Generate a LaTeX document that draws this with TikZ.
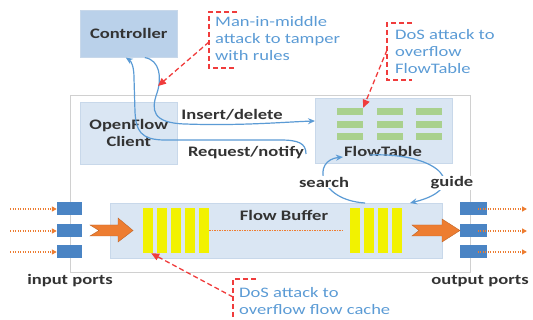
\documentclass[tikz,border=0pt]{standalone}
\usepackage{fontspec}
\setmainfont[FakeStretch=1.28]{Carlito}
\usetikzlibrary{arrows.meta,calc}
\definecolor{ctrlblue}{HTML}{BAD1EA}
\definecolor{lightbox}{HTML}{DAE6F3}
\definecolor{boxedge}{HTML}{C8D8EA}
\definecolor{outeredge}{HTML}{D0D0D0}
\definecolor{curveblue}{HTML}{5B9BD5}
\definecolor{portblue}{HTML}{4A84C4}
\definecolor{orng}{HTML}{ED7D31}
\definecolor{yel}{HTML}{F2F200}
\definecolor{grn}{HTML}{A9D18E}
\definecolor{txt}{HTML}{333333}
\definecolor{atkred}{HTML}{F03C3C}
\definecolor{atkblue}{HTML}{5B9BD5}
\begin{document}
\begin{tikzpicture}[x=1pt,y=-1pt,
  lbl/.style={font=\fontsize{14.5}{17}\selectfont\bfseries, text=txt, inner sep=0pt, align=center},
  atk/.style={font=\fontsize{14.5}{17}\selectfont, text=atkblue, inner sep=0pt, align=left, anchor=west},
  bluebox/.style={fill=#1, draw=boxedge, line width=0.6pt, inner sep=0pt, anchor=north west},
  cell/.style={fill=grn, draw=none, minimum width=26pt, minimum height=7pt, inner sep=0pt},
  bar/.style={fill=yel, draw=none, minimum width=10pt, minimum height=45pt, inner sep=0pt},
  port/.style={fill=portblue, draw=none, minimum height=13pt, inner sep=0pt},
  bluearrow/.style={draw=curveblue, line width=1.2pt, -{Stealth[length=7pt,width=6pt]}},
  orarrow/.style={draw=orng, line width=1.3pt, dash pattern=on 1.3pt off 1.2pt, -{Triangle[length=5pt,width=5pt]}},
  atkline/.style={draw=atkred, line width=1.3pt, dash pattern=on 5pt off 3pt},
  atkarrow/.style={atkline, -{Triangle[length=8pt,width=7pt]}},
  fatarrow/.style={fill=orng, draw=orng!80!black, line width=0.4pt}
]
\useasboundingbox (0,0) rectangle (533,320);

% switch outline
\node[draw=outeredge, line width=1pt, fill=white, minimum width=400pt, minimum height=177pt, inner sep=0pt, anchor=north west] (sw) at (70,95) {};

% controller and client
\node[bluebox=ctrlblue, minimum width=97pt, minimum height=47pt] (ctrl) at (80,10) {};
\node[lbl] (ctrltxt) at (ctrl.center) {Controller};
\node[bluebox=lightbox, minimum width=97pt, minimum height=62pt] (ofc) at (80,102) {};
\node[lbl] (ofctxt) at (ofc.center) {OpenFlow\\Client};

% flow table
\node[bluebox=lightbox, minimum width=137pt, minimum height=65pt] (ft) at (315,98) {};
\foreach \c/\x in {1/350,2/389.5,3/428.5}{
  \foreach \r/\y in {1/111.5,2/124.5,3/137}{
    \node[cell] (g\r\c) at (\x,\y) {};
  }
}
\node[lbl] (ftl) at (383,151) {FlowTable};

% flow buffer
\node[bluebox=lightbox, minimum width=332pt, minimum height=55pt] (fb) at (110,203) {};
\node[lbl] (fbl) at (284,215) {Flow Buffer};
\foreach \i/\x in {1/148,2/162,3/176,4/190,5/204}{
  \node[bar] (lb\i) at (\x,230.5) {};
}
\foreach \i/\x in {1/355,2/369,3/383,4/397}{
  \node[bar] (rb\i) at (\x,230.5) {};
}
\draw[draw=orng, line width=1.2pt, dash pattern=on 1.3pt off 1.2pt] (lb5.east) -- ([xshift=-8pt]rb1.west);

% ports
\foreach \i/\y in {1/209,2/231,3/252}{
  \node[port, minimum width=25pt] (in\i) at (69.5,\y) {};
  \node[port, minimum width=27pt] (out\i) at (473.5,\y) {};
  \coordinate (is\i) at (10,\y);
  \coordinate (oe\i) at (527,\y);
  \draw[orarrow] (is\i) -- (in\i.west);
  \draw[orarrow] ([xshift=4pt]out\i.center) -- (oe\i);
}
\node[lbl] (inl) at (70,281) {input ports};
\node[lbl] (outl) at (480,281) {output ports};

% fat orange arrows
\fill[fatarrow] (90,225) -- (118,225) -- (118,218) -- (133,230.5) -- (118,242) -- (118,236) -- (90,236) -- (99,230.5) -- cycle;
\fill[fatarrow] (412,225) -- (442,225) -- (442,219) -- (460,230.5) -- (442,242) -- (442,236) -- (412,236) -- (419,230.5) -- cycle;

% control channel curves
\coordinate (ftin) at ($(ft.north west)!0.35!(ft.south west)$);
\draw[bluearrow] ([xshift=16pt]ctrl.south) .. controls (160,60) and (162,78) .. (157,93)
  .. controls (151,110) and (152,123) .. (185,124) .. controls (240,126) and (285,122) .. (ftin);
\coordinate (rn) at (306,154);
\draw[bluearrow] (rn) .. controls (306,143) and (298,140) .. (280,140) -- (165,140)
  .. controls (140,140) and (136,130) .. (135,112) -- (134,78) .. controls (134,66) and (131,61) .. ([xshift=-3pt]ctrl.south);
\node[lbl] (insl) at (232,115) {Insert/delete};
\node[lbl] (reql) at (246,153) {Request/notify};

% search / guide loop
\coordinate (sb) at (365,203);
\coordinate (st) at (343,157);
\coordinate (gt) at (370,155);
\coordinate (gb) at (410,203);
\draw[bluearrow] (sb) .. controls (318,200) and (312,160) .. (st);
\draw[bluearrow] (gt) .. controls (440,152) and (472,188) .. (gb);
\node[lbl, fill=white, inner sep=1pt] (srch) at (324,182) {search};
\node[lbl, fill=white, inner sep=1pt] (gd) at (452,183) {guide};

% attacks
\draw[atkline] (237,12) -- (209,12) -- (209,68) -- (234,68);
\node[atk] (mimt) at (215,39) {Man-in-middle\\attack to tamper\\with rules};
\coordinate (mimb) at (209,42);
\coordinate (mimtip) at (158,86);
\draw[atkarrow] (mimb) -- (mimtip);

\draw[atkline] (412,23) -- (387,23) -- (387,80) -- (412,80);
\node[atk] (dft) at (395,52) {DoS attack to\\overflow\\FlowTable};
\coordinate (dftb) at (387,50);
\draw[atkarrow] (dftb) -- (g11.north east);

\draw[atkline] (256,279) -- (233,279) -- (233,322);
\node[atk] (dfc) at (239,301) {DoS attack to\\overflow flow cache};
\coordinate (dfcb) at (233,297);
\draw[atkarrow] (dfcb) -- ([xshift=-2pt]lb1.south east);
\end{tikzpicture}
\end{document}
